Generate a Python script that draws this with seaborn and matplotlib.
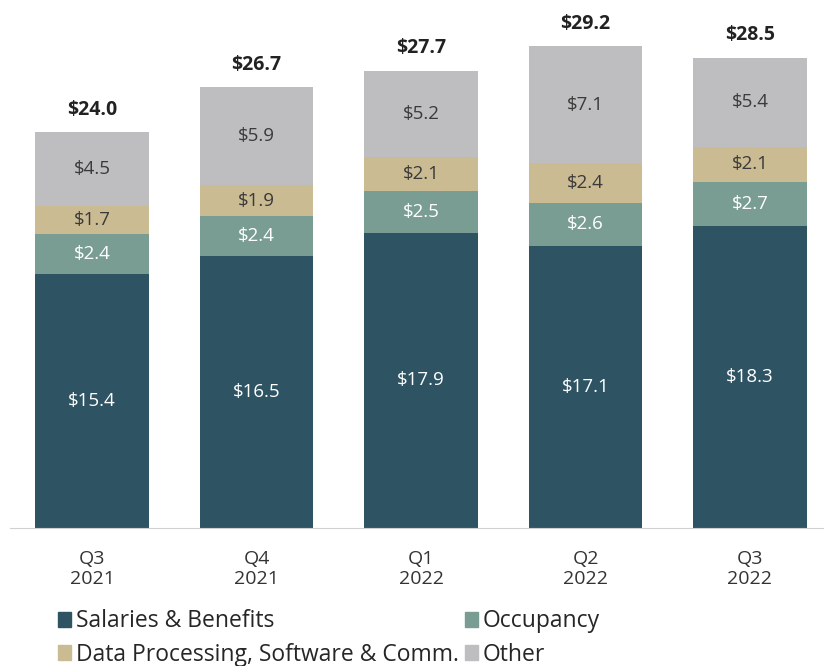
import pandas as pd
import matplotlib.pyplot as plt
import seaborn as sns
from matplotlib.patches import Patch

quarters = ['Q3\n2021', 'Q4\n2021', 'Q1\n2022', 'Q2\n2022', 'Q3\n2022']
salaries = [15.4, 16.5, 17.9, 17.1, 18.3]
occupancy = [2.4, 2.4, 2.5, 2.6, 2.7]
data_proc = [1.7, 1.9, 2.1, 2.4, 2.1]
other = [4.5, 5.9, 5.2, 7.1, 5.4]
totals = [24.0, 26.7, 27.7, 29.2, 28.5]

series = ['Salaries & Benefits', 'Occupancy', 'Data Processing, Software & Comm.', 'Other']
colors = ['#2e5464', '#799d92', '#cbbb93', '#bebec0']
text_colors = ['white', 'white', '#3a3a3a', '#3a3a3a']

sns.set_style('white')
plt.rcParams['font.family'] = ['Open Sans', 'DejaVu Sans']

df = pd.DataFrame({'quarter': quarters, series[0]: salaries, series[1]: occupancy,
                   series[2]: data_proc, series[3]: other})
cum = df[series].cumsum(axis=1)

fig = plt.figure(figsize=(8.24, 6.66), dpi=100)
ax = fig.add_axes([0.012, 0.207, 0.988, 0.793])

# draw stacked bars from the top layer down
for i in range(len(series) - 1, -1, -1):
    sns.barplot(x=df['quarter'], y=cum[series[i]], color=colors[i], width=0.69,
                saturation=1, linewidth=0, ax=ax, order=quarters)

for j in range(len(quarters)):
    bottom = 0
    for i, s in enumerate(series):
        v = df[s][j]
        ax.text(j, bottom + v / 2, f'${v:.1f}', ha='center', va='center',
                color=text_colors[i], fontsize=13.5, zorder=5)
        bottom += v
    ax.annotate(f'${totals[j]:.1f}', (j, totals[j]), xytext=(0, 9), textcoords='offset points',
                ha='center', va='bottom', fontsize=14, fontweight='bold', color='#222222')

ax.set_xlim(-0.5, 4.45)
ax.set_ylim(0, 32)
ax.set_xlabel('')
ax.set_ylabel('')
ax.set_yticks([])
ax.set_xticks(range(len(quarters)))
ax.set_xticklabels(quarters, fontsize=14, color='#333333', linespacing=1.12)
ax.tick_params(axis='x', length=0, pad=16)
ax.set_xticks([-0.5, 0.5, 1.5, 2.5, 3.5], minor=True)
ax.tick_params(axis='x', which='minor', length=7, color='#d0d0d0', direction='out')
for side in ['top', 'right', 'left']:
    ax.spines[side].set_visible(False)
ax.spines['bottom'].set_color('#d0d0d0')

handles = [Patch(color=colors[0], label=series[0]), Patch(color=colors[2], label=series[2]),
           Patch(color=colors[1], label=series[1]), Patch(color=colors[3], label=series[3])]
fig.legend(handles=handles, loc='upper left', bbox_to_anchor=(0.07, 0.085), ncol=2,
           frameon=False, handlelength=0.6, handleheight=0.6, handletextpad=0.2,
           columnspacing=0.25, labelspacing=0.4, borderaxespad=0, borderpad=0,
           prop={'size': 16.5})

fig.savefig('out.png', dpi=100)
